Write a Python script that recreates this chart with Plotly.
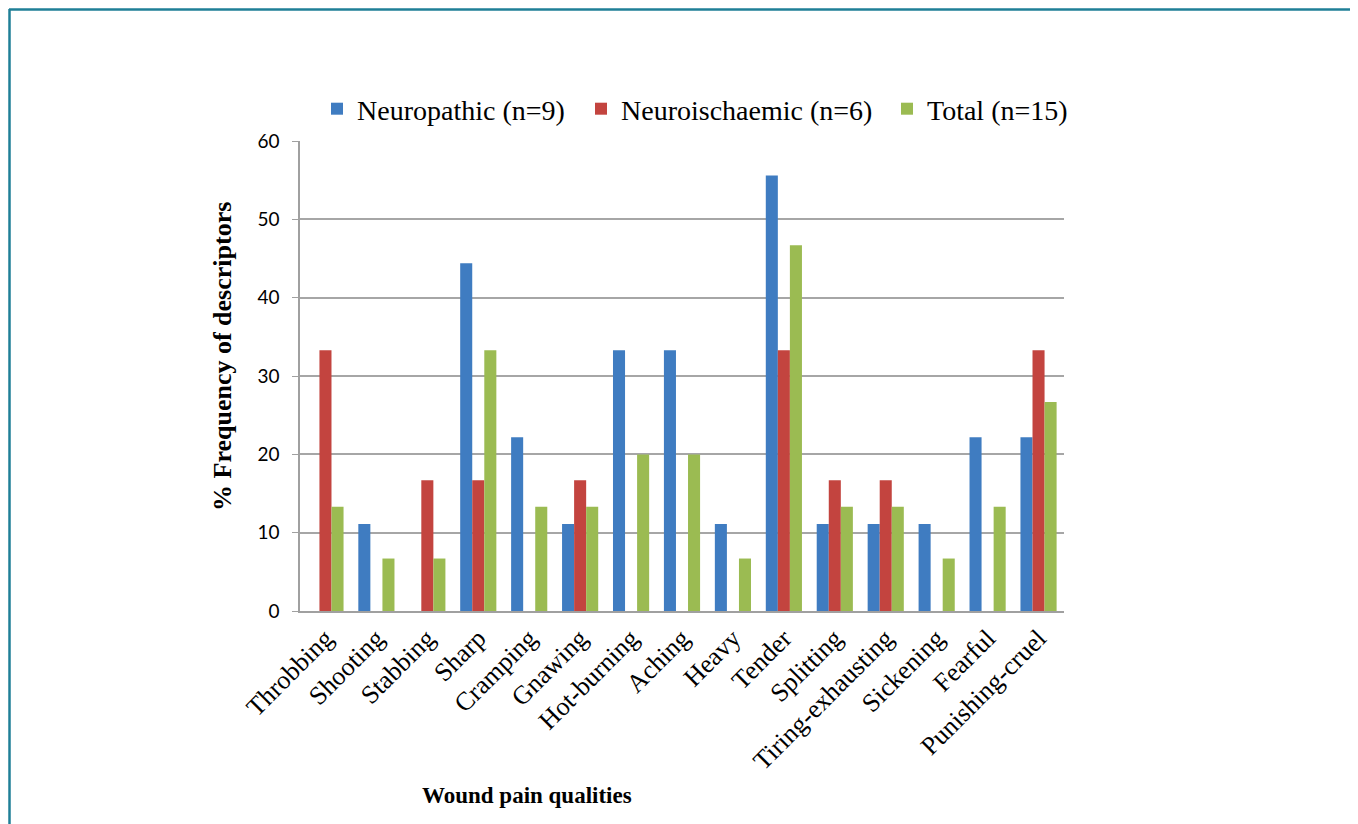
import plotly.graph_objects as go

categories = ["Throbbing", "Shooting", "Stabbing", "Sharp", "Cramping", "Gnawing",
              "Hot-burning", "Aching", "Heavy", "Tender", "Splitting",
              "Tiring-exhausting", "Sickening", "Fearful", "Punishing-cruel"]
neuropathic = [0, 11.1, 0, 44.4, 22.2, 11.1, 33.3, 33.3, 11.1, 55.6, 11.1, 11.1, 11.1, 22.2, 22.2]
neuroischaemic = [33.3, 0, 16.7, 16.7, 0, 16.7, 0, 0, 0, 33.3, 16.7, 16.7, 0, 0, 33.3]
total = [13.3, 6.7, 6.7, 33.3, 13.3, 13.3, 20, 20, 6.7, 46.7, 13.3, 13.3, 6.7, 13.3, 26.7]
y_ticks = [0, 10, 20, 30, 40, 50, 60]

# page offset of the figure inside the browser (body margin)
OFF = 8
W, H = 1358 - OFF, 824 - OFF
# plot area in page coordinates
PX0, PX1, PY0, PY1 = 300, 1064, 141, 611
L, T = PX0 - OFF, PY0 - OFF
pw, ph = PX1 - PX0, PY1 - PY0
R, B = W - L - pw, H - T - ph

def px(x):
    return (x - PX0) / pw

def py(y):
    return (PY1 - y) / ph

serif = "Liberation Serif, Times New Roman, serif"

fig = go.Figure()
series = [("Neuropathic (n=9)", neuropathic, "#3f7cc1", "legend", 317),
          ("Neuroischaemic (n=6)", neuroischaemic, "#c3443f", "legend2", 581),
          ("Total (n=15)", total, "#9bbb52", "legend3", 887)]
legends = {}
for name, vals, col, lg, lx in series:
    fig.add_trace(go.Bar(x=categories, y=vals, name=name, legend=lg,
                         marker=dict(color=col, line=dict(width=0))))
    legends[lg] = dict(orientation="h", x=px(lx), y=py(109), xanchor="left", yanchor="middle",
                       font=dict(family=serif, size=28, color="black"),
                       itemwidth=30, bgcolor="rgba(0,0,0,0)")

fig.update_layout(
    width=W, height=H,
    margin=dict(l=L, r=R, t=T, b=B),
    paper_bgcolor="white", plot_bgcolor="white",
    barmode="group", bargap=0.29, bargroupgap=0,
    showlegend=True,
    **legends,
    xaxis=dict(tickangle=-45, tickfont=dict(family=serif, size=26, color="black"),
               showline=True, linecolor="#a0a0a0", linewidth=1.5, showgrid=False,
               ticks=""),
    yaxis=dict(range=[0, 60.02], tickvals=y_ticks, showgrid=True, gridcolor="#a6a6a6",
               gridwidth=1.5, showline=True, linecolor="#a0a0a0", linewidth=1.5,
               ticks="outside", ticklen=6, tickcolor="#a0a0a0", ticklabelstandoff=9,
               tickfont=dict(family="Lato, Open Sans, sans-serif", size=19, color="black"),
               zeroline=False),
    annotations=[
        dict(text="<b>% Frequency of descriptors</b>", x=px(222), y=py(357), xref="paper",
             yref="paper", textangle=-90, showarrow=False,
             font=dict(family=serif, size=26, color="black"), xanchor="center", yanchor="middle"),
        dict(text="<b>Wound pain qualities</b>", x=px(527), y=py(795), xref="paper",
             yref="paper", showarrow=False,
             font=dict(family=serif, size=23, color="black"), xanchor="center", yanchor="middle"),
    ],
    shapes=[
        dict(type="line", xref="paper", yref="paper", x0=px(9), x1=px(1358), y0=py(9.5), y1=py(9.5),
             line=dict(color="#1f7f97", width=2.5)),
        dict(type="line", xref="paper", yref="paper", x0=px(9.5), x1=px(9.5), y0=py(9), y1=py(824),
             line=dict(color="#1f7f97", width=2.5)),
    ],
)

fig.write_html("out.html")
